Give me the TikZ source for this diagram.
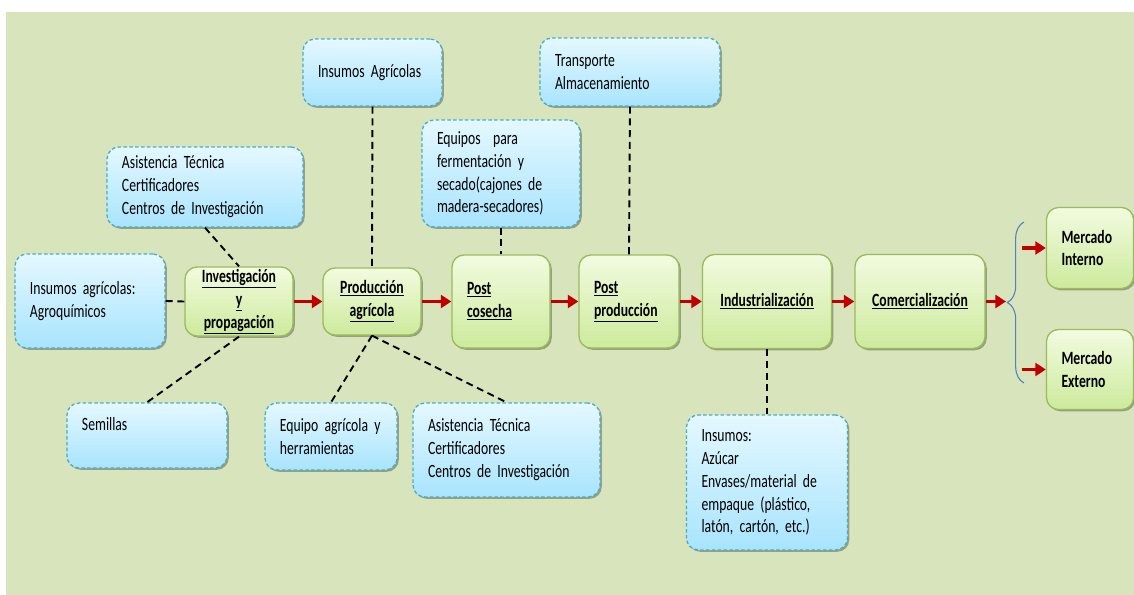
\documentclass[tikz,border=0pt]{standalone}
\usepackage{fontspec}
\setmainfont{Carlito}[FakeStretch=0.73]
\usetikzlibrary{arrows.meta,shadows,decorations.pathreplacing}

\definecolor{fondo}{HTML}{D8E4BC}
\definecolor{verdeborde}{HTML}{9BBB59}
\definecolor{verdearriba}{HTML}{F2FBE0}
\definecolor{verdeabajo}{HTML}{CDEA9C}
\definecolor{azulborde}{HTML}{4BACC6}
\definecolor{azularriba}{HTML}{E4F8FF}
\definecolor{azulabajo}{HTML}{A8E4FD}
\definecolor{rojo}{HTML}{C00000}
\definecolor{llave}{HTML}{4F81BD}

\newcommand{\uln}[1]{\underline{#1}}
\newcommand{\letra}{\fontsize{16}{19.5}\selectfont\spaceskip=2.8pt plus 1pt\relax}

\begin{document}
\begin{tikzpicture}[x=0.03cm, y=-0.03cm,
    every node/.style={font=\letra, inner xsep=0.45cm, inner ysep=0pt},
    etapa/.style={draw=verdeborde, line width=1.1pt, rounded corners=0.36cm,
      top color=verdearriba, bottom color=verdeabajo,
      drop shadow={shadow xshift=1.5pt, shadow yshift=-1.5pt, opacity=0.3, fill=black},
      font=\letra\bfseries},
    insumo/.style={draw=azulborde, line width=1.1pt, dash pattern=on 3pt off 2pt,
      rounded corners=0.36cm, top color=azularriba, bottom color=azulabajo,
      drop shadow={shadow xshift=1.5pt, shadow yshift=-1.5pt, opacity=0.3, fill=black},
      align=left},
    flujo/.style={draw=rojo, line width=2.6pt, -{Triangle[length=9pt,width=11pt]}},
    apoyo/.style={line width=1.6pt, dash pattern=on 6pt off 4pt}]
    \useasboundingbox (0,0) rectangle (1134,595);
    \fill[fondo] (6,12) rectangle (1134,595);

    \node[insumo, text width=3.6cm,  minimum height=2.82cm] (ins)   at (90,301)    {Insumos agrícolas:\\Agroquímicos};
    \node[insumo, text width=4.98cm, minimum height=2.4cm]  (asis1) at (205,187)   {Asistencia Técnica\\Certificadores\\Centros de Investigación};
    \node[insumo, text width=3.27cm, minimum height=2.01cm] (insa)  at (372.5,72.5){Insumos Agrícolas};
    \node[insumo, text width=4.5cm,  minimum height=2.04cm] (trans) at (630,72)    {Transporte\\Almacenamiento};
    \node[insumo, text width=3.84cm, minimum height=3.21cm] (equ)   at (501,173.5) {Equipos\ \ para\\fermentación y\\secado(cajones de\\madera-secadores)};
    \node[insumo, text width=3.9cm,  minimum height=1.95cm] (sem)   at (147,435.5) {Semillas\\\mbox{}};
    \node[insumo, text width=3.06cm, minimum height=2.01cm] (eqa)   at (331,436.5) {Equipo agrícola y\\herramientas};
    \node[insumo, text width=4.71cm, minimum height=2.82cm] (asis2) at (506.5,450)  {Asistencia Técnica\\Certificadores\\Centros de Investigación};
    \node[insumo, text width=3.93cm, minimum height=4.05cm] (insb)  at (767,482.5)  {Insumos:\\Azúcar\\Envases/material de\\empaque (plástico,\\latón, cartón, etc.)};

    \node[etapa, text width=2.34cm, minimum height=2.07cm, align=center] (inv)  at (239,301.5) {\uln{Investigación}\\\uln{y}\\\uln{propagación}};
    \node[etapa, text width=2.04cm, minimum height=2.01cm, align=center] (prod) at (372,301.5) {\uln{Producción}\\\uln{agrícola}};
    \node[etapa, text width=2.04cm, minimum height=2.79cm, align=left]   (pc)   at (501,301.5) {\uln{Post}\\\uln{cosecha}};
    \node[etapa, text width=2.1cm,  minimum height=2.79cm, align=left]   (pp)   at (629,301.5) {\uln{Post}\\\uln{producción}};
    \node[etapa, text width=2.97cm, minimum height=2.82cm, align=center] (ind)  at (767,301.5) {\uln{Industrialización}};
    \node[etapa, text width=3.0cm,  minimum height=2.82cm, align=center] (com)  at (920,301.5) {\uln{Comercialización}};
    \node[etapa, text width=1.71cm, minimum height=2.43cm, align=left]   (mi)   at (1090,248)  {Mercado\\Interno};
    \node[etapa, text width=1.71cm, minimum height=2.4cm,  align=left]   (me)   at (1090,369.5){Mercado\\Externo};

    \coordinate (brc) at (1006,301.5);
    \coordinate (bi) at (1022,248);
    \coordinate (be) at (1022,369.5);

    \draw[apoyo] (ins.east) -- (inv.west);
    \draw[apoyo] (asis1.south) -- (inv.north);
    \draw[apoyo] (inv.south) -- (sem.north);
    \draw[apoyo] (insa.south) -- (prod.north);
    \draw[apoyo] (prod.south) -- (eqa.north);
    \draw[apoyo] (prod.south) -- (asis2.north);
    \draw[apoyo] (equ.south) -- (pc.north);
    \draw[apoyo] (trans.south) -- (pp.north);
    \draw[apoyo] (ind.south) -- (insb.north);

    \draw[flujo] (inv) -- (prod);
    \draw[flujo] (prod) -- (pc);
    \draw[flujo] (pc) -- (pp);
    \draw[flujo] (pp) -- (ind);
    \draw[flujo] (ind) -- (com);
    \draw[flujo] (com) -- (brc);
    \draw[flujo] (bi) -- (mi);
    \draw[flujo] (be) -- (me);

    \draw[llave, line width=0.9pt, decorate, decoration={brace, amplitude=0.5cm}] (1024,383) -- (1024,222);
\end{tikzpicture}
\end{document}
